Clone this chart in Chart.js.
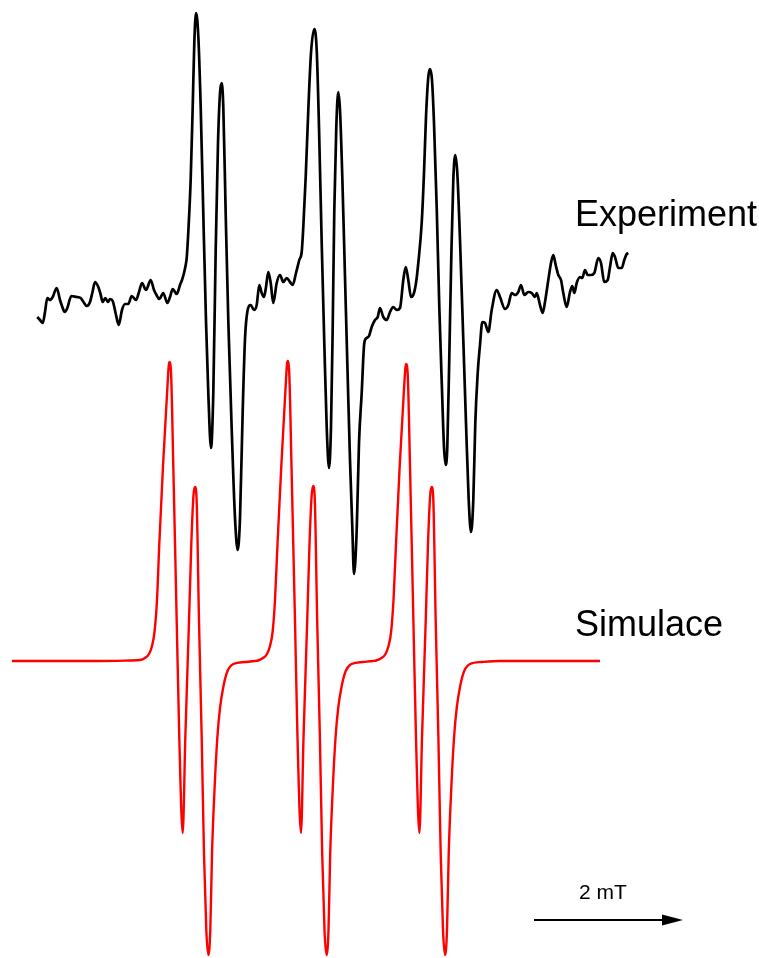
<!DOCTYPE html>
<html>
<head>
<meta charset="utf-8">
<script src="https://cdn.jsdelivr.net/npm/chart.js@4"></script>
<style>
  html, body { margin: 0; padding: 0; background: #fff; }
  #wrap { width: 759px; height: 958px; }
</style>
</head>
<body>
<div id="wrap"><canvas id="spektrum" width="759" height="958"></canvas></div>
<script>
const expX = [37.3, 40, 42.7, 45, 47.3, 50, 52.7, 56.7, 60, 62, 64.7, 67.3, 71.3, 76.7, 80.7, 83.5, 86.7, 90, 92.5, 95,
  98.3, 100.5, 102.7, 105.3, 108, 110, 112.7, 116, 118.7, 122, 125, 128.3, 131.7, 136, 139, 142, 146, 150.7, 154, 156.5,
  159.3, 163.3, 167.3, 170, 172.7, 176.7, 180, 182, 184, 185.5, 186.7, 188.3, 190.7, 192.7, 194.3, 196, 198.3, 200.7, 203.3, 206,
  208.3, 211, 213.3, 215.7, 218, 220, 221.7, 223.3, 225.7, 228.3, 231.7, 235, 237.7, 240, 242.7, 245, 247.3, 250.7, 254, 256.7,
  259.3, 261.7, 264, 266, 268.3, 270.7, 273.3, 276.7, 280, 283.3, 286.7, 290, 292.7, 296, 299.3, 301.7, 303.3, 305.7, 308.3, 311,
  314.3, 316.7, 319, 321.7, 324.3, 326.7, 329, 331, 332.7, 334.3, 336.3, 338.3, 340, 342.3, 345, 347.7, 350, 352.3, 354, 356.7,
  359, 361.7, 364.3, 366.7, 369, 371.7, 375, 377.7, 380, 383.3, 386.7, 390, 393.3, 396.7, 400, 403.3, 405.7, 408.3, 411, 413.3,
  416, 418.3, 421.7, 424, 426, 428.3, 430, 432, 434, 436.7, 439.3, 442, 444, 445.7, 447.3, 449.3, 451.3, 453.3, 455.3, 457.3,
  460, 463.3, 466, 468.7, 471, 473.3, 475.3, 477.7, 480, 482.3, 485, 488.3, 491.7, 496.7, 500, 505, 508.3, 511.7, 515, 518.3,
  521, 524.3, 528.3, 531.7, 535, 536.7, 540, 542.7, 545, 548.3, 551, 553.3, 555.7, 558.3, 561, 563.3, 566.7, 570, 572.3, 574.3,
  576.7, 580, 582.3, 585, 587.7, 591, 594.3, 598.3, 601, 604.3, 607.7, 610, 612.7, 615, 618.3, 621.7, 624.3, 626.7, 628.3];
const expY = [317, 320, 323, 312, 298, 300, 297, 288, 300, 306, 312, 308, 296, 297, 298, 302, 306, 302, 292, 282,
  287, 294, 302, 298, 302, 299, 301, 315, 325, 310, 304, 304, 296, 300, 292, 283, 290, 280, 290, 295,
  299, 293, 303, 297, 289, 294, 285, 280, 273, 266, 258, 232, 179, 107, 43, 13, 36, 107, 214, 321,
  393, 448, 393, 250, 143, 93, 83, 107, 214, 321, 429, 518, 550, 518, 411, 339, 312, 305, 310, 305,
  285, 293, 297, 287, 272, 283, 303, 283, 275, 282, 278, 282, 285, 273, 260, 252, 227, 177, 110, 53,
  29, 50, 127, 243, 343, 427, 468, 427, 327, 210, 127, 92, 110, 177, 277, 377, 460, 527, 574, 530,
  443, 393, 343, 338, 336, 327, 320, 317, 308, 317, 320, 312, 307, 310, 308, 280, 267, 280, 297, 295,
  283, 263, 223, 173, 117, 77, 69, 80, 123, 207, 307, 390, 447, 465, 447, 357, 257, 180, 155, 173,
  240, 340, 423, 500, 532, 500, 423, 373, 345, 322, 323, 332, 310, 290, 297, 309, 305, 293, 295, 292,
  285, 295, 292, 293, 297, 293, 305, 313, 302, 280, 263, 255, 265, 275, 280, 293, 307, 292, 286, 293,
  283, 277, 278, 270, 275, 275, 273, 258, 263, 282, 280, 267, 253, 257, 268, 268, 260, 254, 253];

// simulace
const simX = [12, 60, 100, 130, 140, 145, 149, 152, 154.5, 157, 159.3, 163, 167.3, 169.3, 171, 173.3, 176.7, 179.3, 182.7, 185.3, 189, 191.3,
  193.5, 195, 196.5, 199, 201.7, 204, 206.3, 208.3, 210.3, 212, 214.5, 217.3, 220, 223.5, 227.5, 233.3, 245, 255, 258,
  263, 267, 270, 272.6, 275, 277.5, 281.3, 285.5, 287.5, 289.2, 291.5, 295, 297.5, 301, 303.5, 307.2, 309.5, 311.7, 313.2, 314.7, 317.2,
  319.9, 322.2, 324.5, 326.5, 328.5, 330.2, 332.7, 335.5, 338.2, 341.7, 345.7, 351.5, 363, 373, 376,
  381.5, 385.5, 388.5, 391.1, 393.5, 396, 399.7, 404, 406, 407.7, 410, 413.4, 416, 419.4, 422, 425.7, 428, 430.2, 431.7, 433.2, 435.7,
  438.4, 440.7, 443, 445, 447, 448.7, 451.2, 454, 456.7, 460.2, 464.2, 470, 482, 500, 550, 600];
const simY = [661, 661, 661, 660.5, 660, 658, 654, 646, 632, 600, 544, 466, 389, 362, 372, 466, 621, 738, 833, 738, 621, 544,
  495, 487, 497, 621, 738, 854, 930, 955, 930, 854, 790, 738, 708, 686, 671, 664, 662, 661, 660.5,
  658, 654, 646, 632, 600, 544, 466, 389, 361, 372, 466, 621, 738, 833, 738, 621, 544, 495, 486, 497, 621,
  738, 854, 930, 955, 930, 854, 790, 738, 708, 686, 671, 664, 662, 661, 660.5,
  658, 654, 646, 632, 600, 544, 466, 389, 364, 374, 466, 621, 738, 833, 738, 621, 544, 495, 487, 497, 621,
  738, 854, 930, 955, 930, 854, 790, 738, 708, 686, 671, 664, 662, 661, 661, 661];

// meritko 2 mT
const meritkoX = [534, 683];
const meritkoY = [920, 920];

const popisky = [
  { text: 'Experiment', x: 575, y: 226, size: 36 },
  { text: 'Simulace', x: 575, y: 636, size: 36 },
  { text: '2 mT', x: 579, y: 899, size: 21 }
];

function body(xs, ys) {
  return xs.map((x, i) => ({ x: x, y: ys[i] }));
}

// popisky a hrot sipky
const kresleni = {
  id: 'kresleni',
  afterDatasetsDraw(chart) {
    const c = chart.ctx;
    const sx = chart.scales.x;
    const sy = chart.scales.y;
    c.save();
    c.fillStyle = '#000';
    c.textBaseline = 'alphabetic';
    c.textAlign = 'left';
    popisky.forEach(p => {
      c.font = p.size + 'px "Liberation Sans", Arial, sans-serif';
      c.fillText(p.text, sx.getPixelForValue(p.x), sy.getPixelForValue(p.y));
    });
    const tipX = sx.getPixelForValue(meritkoX[1]);
    const tipY = sy.getPixelForValue(meritkoY[1]);
    c.beginPath();
    c.moveTo(tipX, tipY);
    c.lineTo(tipX - 21, tipY - 5.5);
    c.lineTo(tipX - 21, tipY + 5.5);
    c.closePath();
    c.fill();
    c.restore();
  }
};

new Chart(document.getElementById('spektrum'), {
  type: 'scatter',
  data: {
    datasets: [{
      label: 'Experiment',
      data: body(expX, expY),
      showLine: true,
      borderColor: '#000',
      borderWidth: 2.7,
      pointRadius: 0,
      cubicInterpolationMode: 'monotone'
    }, {
      label: 'Simulace',
      data: body(simX, simY),
      showLine: true,
      borderColor: '#ff0000',
      borderWidth: 2.4,
      pointRadius: 0,
      cubicInterpolationMode: 'monotone'
    }, {
      label: '2 mT',
      data: body([meritkoX[0], meritkoX[1] - 18], meritkoY),
      showLine: true,
      borderColor: '#000',
      borderWidth: 2,
      pointRadius: 0
    }]
  },
  options: {
    responsive: false,
    animation: false,
    layout: { padding: 0 },
    plugins: {
      legend: { display: false },
      tooltip: { enabled: false }
    },
    scales: {
      x: { type: 'linear', min: 0, max: 759, display: false },
      y: { type: 'linear', min: 0, max: 958, reverse: true, display: false }
    }
  },
  plugins: [kresleni]
});
</script>
</body>
</html>
